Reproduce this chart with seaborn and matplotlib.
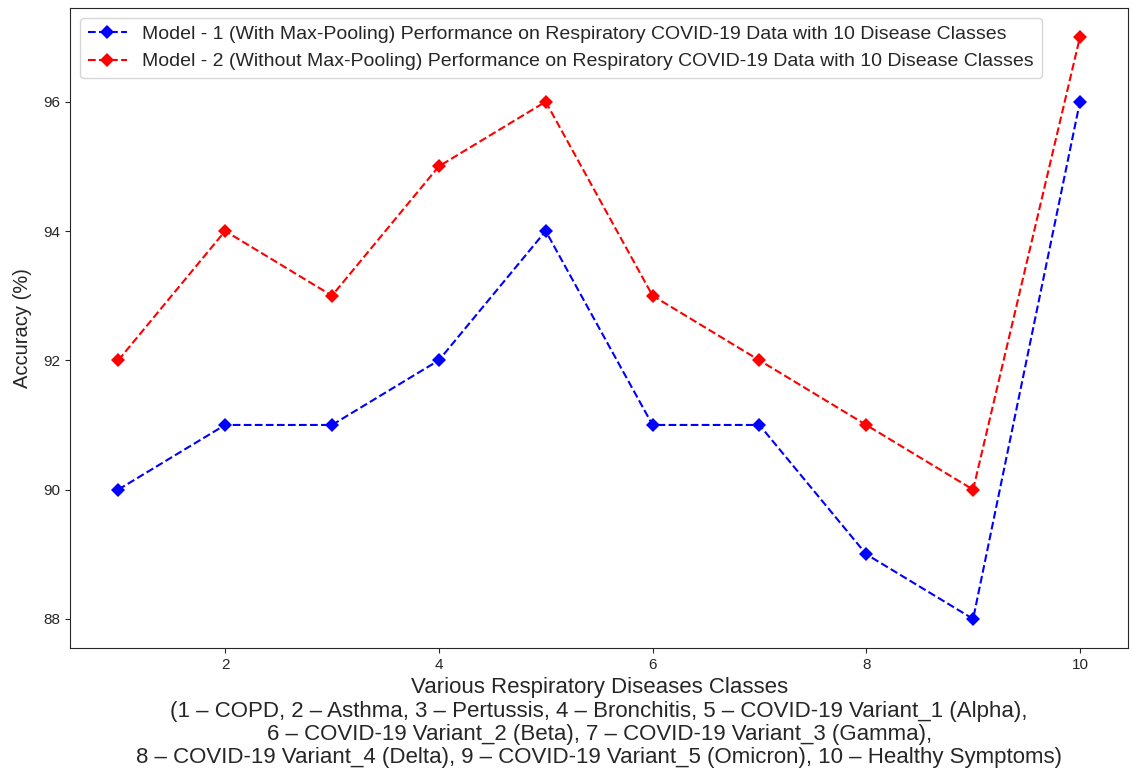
import matplotlib
matplotlib.use("Agg")
import matplotlib.pyplot as plt
import seaborn as sns
import pandas as pd

classes = [1, 2, 3, 4, 5, 6, 7, 8, 9, 10]
model1 = [90, 91, 91, 92, 94, 91, 91, 89, 88, 96]
model2 = [92, 94, 93, 95, 96, 93, 92, 91, 90, 97]
label1 = "Model - 1 (With Max-Pooling) Performance on Respiratory COVID-19 Data with 10 Disease Classes"
label2 = "Model - 2 (Without Max-Pooling) Performance on Respiratory COVID-19 Data with 10 Disease Classes"
xlabel = ("Various Respiratory Diseases Classes\n"
          "(1 – COPD, 2 – Asthma, 3 – Pertussis, 4 – Bronchitis, 5 – COVID-19 Variant_1 (Alpha),\n"
          "6 – COVID-19 Variant_2 (Beta), 7 – COVID-19 Variant_3 (Gamma),\n"
          "8 – COVID-19 Variant_4 (Delta), 9 – COVID-19 Variant_5 (Omicron), 10 – Healthy Symptoms)")

df = pd.DataFrame({
    "cls": classes * 2,
    "acc": model1 + model2,
    "model": [label1] * len(classes) + [label2] * len(classes),
})

sns.set_style("ticks")
plt.rcParams['font.family'] = ['Liberation Sans', 'DejaVu Sans']

fig = plt.figure(figsize=(11.32, 7.73), dpi=100)
ax = fig.add_axes([0.062, 0.1617, 0.9345, 0.828])
sns.lineplot(data=df, x="cls", y="acc", hue="model", palette=["#0000ff", "#ff0000"],
             marker="D", markersize=7, markeredgewidth=0, linestyle="--", linewidth=1.5,
             ax=ax)
for line in ax.get_lines():
    line.set_linestyle("--")
ax.set_xticks([2, 4, 6, 8, 10])
ax.set_yticks([88, 90, 92, 94, 96])
ax.tick_params(labelsize=11)
ax.set_ylabel("Accuracy (%)", fontsize=14.5, labelpad=8)
ax.set_xlabel(xlabel, fontsize=16, labelpad=4, linespacing=1.14)
leg = ax.legend(loc="upper left", fontsize=14, frameon=True)
for l in leg.get_lines():
    l.set_linestyle("--")
leg.set_title(None)
fig.savefig("out.png", dpi=100)
